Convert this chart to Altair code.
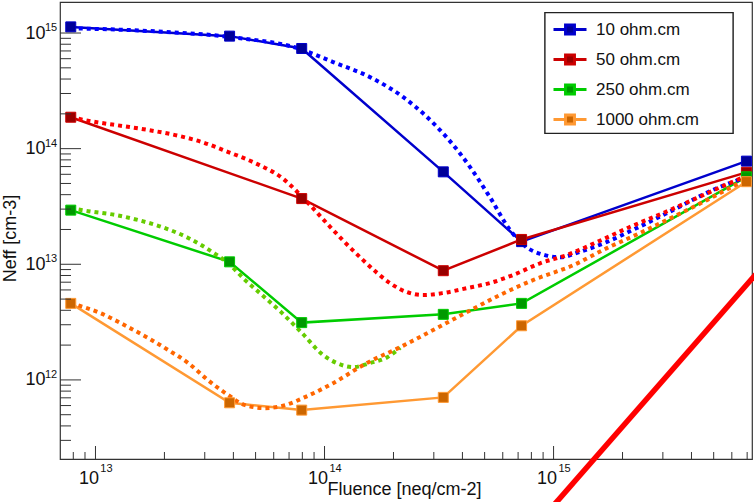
import altair as alt
import pandas as pd

FONT = "Liberation Sans"

SERIES = ["10 ohm.cm", "50 ohm.cm", "250 ohm.cm", "1000 ohm.cm"]
LINE_COLORS = ["#0000cc", "#cc0000", "#00cc00", "#ff9933"]
MARKER_COLORS = ["#000099", "#990000", "#009900", "#cc6600"]
DOT_COLORS = ["#0000ff", "#ff0000", "#66cc00", "#ff6600"]

# measured points (solid lines with square markers)
fluence_6 = [7.8e12, 3.85e13, 7.95e13, 3.3e14, 7.25e14, 6.95e15]
fluence_5 = [7.8e12, 7.95e13, 3.3e14, 7.25e14, 6.95e15]
neff_10 = [1.13e15, 9.4e14, 7.35e14, 6.3e13, 1.57e13, 7.8e13]
neff_50 = [1.87e14, 3.7e13, 8.8e12, 1.64e13, 6.24e13]
neff_250 = [2.94e13, 1.05e13, 3.13e12, 3.69e12, 4.59e12, 5.71e13]
neff_1000 = [4.59e12, 6.34e11, 5.48e11, 7.06e11, 2.94e12, 5.18e13]

# dotted model curves
dot10_x = [7.8e12, 1.73e13, 3.87e13, 7.82e13, 1.09e14, 1.61e14, 2.20e14, 2.80e14, 3.43e14,
           4.32e14, 5.27e14, 6.45e14, 7.5e14, 9.17e14, 1.07e15, 1.30e15, 1.71e15, 2.31e15,
           3.32e15, 4.96e15, 6.95e15]
dot10_y = [1.10e15, 1.04e15, 9.23e14, 7.28e14, 5.61e14, 4.08e14, 2.80e14, 1.88e14, 1.24e14,
           6.93e13, 3.81e13, 1.98e13, 1.44e13, 1.20e13, 1.15e13, 1.28e13, 1.56e13, 2.06e13,
           2.94e13, 4.39e13, 5.68e13]
dot50_x = [7.8e12, 1.0e13, 1.31e13, 1.70e13, 2.23e13, 2.92e13, 3.80e13, 4.98e13, 6.53e13,
           8.48e13, 1.06e14, 1.20e14, 1.43e14, 1.70e14, 1.93e14, 2.29e14, 2.69e14, 3.29e14,
           4.19e14, 5.27e14, 6.65e14, 8.73e14, 1.14e15, 1.55e15, 2.15e15, 3.00e15, 4.22e15,
           5.87e15, 6.95e15]
dot50_y = [1.87e14, 1.70e14, 1.57e14, 1.45e14, 1.31e14, 1.14e14, 9.35e13, 7.50e13, 5.57e13,
           3.38e13, 2.10e13, 1.62e13, 1.15e13, 8.39e12, 6.88e12, 5.74e12, 5.42e12, 5.64e12,
           6.22e12, 6.88e12, 8.07e12, 1.02e13, 1.20e13, 1.56e13, 2.10e13, 2.77e13, 3.74e13,
           5.04e13, 5.80e13]
dot250_x = [7.8e12, 9.29e12, 1.22e13, 1.54e13, 1.95e13, 2.54e13, 3.23e13, 3.80e13, 4.50e13,
            5.34e13, 6.53e13, 7.98e13, 9.86e13, 1.13e14, 1.33e14, 1.58e14, 1.88e14, 2.14e14]
dot250_y = [3.06e13, 2.88e13, 2.67e13, 2.41e13, 2.10e13, 1.69e13, 1.28e13, 1.02e13, 7.30e12,
            5.42e12, 3.78e12, 2.54e12, 1.64e12, 1.40e12, 1.29e12, 1.40e12, 1.57e12, 1.90e12]
dot1000_x = [7.8e12, 1.05e13, 1.39e13, 1.70e13, 2.08e13, 2.54e13, 3.10e13, 3.80e13, 4.50e13,
             5.50e13, 6.73e13, 8.22e13, 1.09e14, 1.53e14, 2.14e14, 2.98e14, 4.19e14, 5.83e14,
             8.13e14, 1.22e15, 1.71e15, 2.38e15, 3.32e15, 4.67e15, 6.50e15, 6.95e15]
dot1000_y = [4.61e12, 3.78e12, 2.86e12, 2.30e12, 1.81e12, 1.40e12, 9.95e11, 7.39e11, 6.05e11,
             5.70e11, 6.05e11, 7.10e11, 9.37e11, 1.40e12, 1.92e12, 2.70e12, 3.86e12, 5.42e12,
             7.30e12, 9.84e12, 1.38e13, 1.86e13, 2.56e13, 3.59e13, 5.04e13, 5.35e13]

# red diagonal annotation stroke (ends)
anno_x = [1.01e15, 7.64e15]
anno_y = [8.4e10, 8.2e12]

# axis ticks and labels
x_major = [1e13, 1e14, 1e15]
x_minor = [8e12, 9e12, 2e13, 3e13, 4e13, 5e13, 6e13, 7e13, 8e13, 9e13,
           2e14, 3e14, 4e14, 5e14, 6e14, 7e14, 8e14, 9e14,
           2e15, 3e15, 4e15, 5e15, 6e15, 7e15]
x_exp = ["13", "14", "15"]
y_major = [1e12, 1e13, 1e14, 1e15]
y_minor = [3e11, 4e11, 5e11, 6e11, 7e11, 8e11, 9e11,
           2e12, 3e12, 4e12, 5e12, 6e12, 7e12, 8e12, 9e12,
           2e13, 3e13, 4e13, 5e13, 6e13, 7e13, 8e13, 9e13,
           2e14, 3e14, 4e14, 5e14, 6e14, 7e14, 8e14, 9e14]
y_exp = ["12", "13", "14", "15"]

X_DOMAIN = [7.0e12, 7.35e15]
Y_DOMAIN = [2.07e11, 1.855e15]

# ---- tables ----
meas_rows = []
for s, xs, ys in zip(SERIES, [fluence_6, fluence_5, fluence_6, fluence_6],
                     [neff_10, neff_50, neff_250, neff_1000]):
    for a, b in zip(xs, ys):
        meas_rows.append({"series": s, "fluence": a, "neff": b})
meas = pd.DataFrame(meas_rows)

dot_rows = []
for s, xs, ys in zip(SERIES, [dot10_x, dot50_x, dot250_x, dot1000_x],
                     [dot10_y, dot50_y, dot250_y, dot1000_y]):
    for a, b in zip(xs, ys):
        dot_rows.append({"series": s, "fluence": a, "neff": b})
dots = pd.DataFrame(dot_rows)

anno = pd.DataFrame({"fluence": anno_x, "neff": anno_y})
xmaj = pd.DataFrame({"fluence": x_major, "label": x_exp})
xmin = pd.DataFrame({"fluence": x_minor})
ymaj = pd.DataFrame({"neff": y_major, "label": y_exp})
ymin = pd.DataFrame({"neff": y_minor})

xs_scale = alt.Scale(type="log", domain=X_DOMAIN, nice=False)
ys_scale = alt.Scale(type="log", domain=Y_DOMAIN, nice=False)

x_axis = alt.Axis(values=x_major, labelExpr="'10'", tickSize=0, domain=False, grid=False,
                  labelFont=FONT, labelFontSize=18, labelColor="#111", labelPadding=19,
                  labelBaseline="middle", labelOffset=-7, labelFlush=False, labelOverlap=False,
                  title="Fluence [neq/cm-2]", titleFont=FONT, titleFontSize=18,
                  titleFontWeight="normal", titleColor="#111", titleX=267, titleY=30,
                  titleAlign="left", titleBaseline="middle")
y_axis = alt.Axis(values=y_major, labelExpr="'10'", tickSize=0, domain=False, grid=False,
                  labelFont=FONT, labelFontSize=18, labelColor="#111", labelPadding=15,
                  labelBaseline="middle", labelFlush=False, labelOverlap=False,
                  title="Neff [cm-3]", titleFont=FONT, titleFontSize=18,
                  titleFontWeight="normal", titleColor="#111", titleX=-50, titleY=236,
                  titleAngle=-90, titleAlign="center", titleBaseline="middle")


def X():
    return alt.X("fluence:Q", scale=xs_scale, axis=x_axis)


def Y():
    return alt.Y("neff:Q", scale=ys_scale, axis=y_axis)


stroke_scale = alt.Scale(domain=SERIES, range=LINE_COLORS)
fill_scale = alt.Scale(domain=SERIES, range=MARKER_COLORS)

legend = alt.Legend(title=None, orient="none", legendX=485, legendY=11,
                    symbolType="M-1,0H-0.27M0.27,0H1M-0.27,-0.27H0.27V0.27H-0.27Z",
                    symbolSize=1089, symbolStrokeWidth=3, symbolOffset=4,
                    labelFont=FONT, labelFontSize=17, labelColor="#111", labelOffset=8,
                    padding=3, clipHeight=27, rowPadding=3, labelLimit=300)

solid = alt.Chart(meas).mark_line(strokeWidth=2.5).encode(
    x=X(), y=Y(),
    stroke=alt.Stroke("series:N", scale=stroke_scale, legend=legend),
)

dotted = alt.Chart(dots).mark_line(strokeWidth=4, strokeDash=[4, 4], strokeCap="butt",
                                   interpolate="monotone").encode(
    x=X(), y=Y(),
    color=alt.Color("series:N", scale=alt.Scale(domain=SERIES, range=DOT_COLORS), legend=None),
)

markers = alt.Chart(meas).mark_point(shape="square", filled=True, size=100, opacity=1,
                                     strokeWidth=1).encode(
    x=X(), y=Y(),
    fill=alt.Fill("series:N", scale=fill_scale, legend=legend),
    stroke=alt.Stroke("series:N", scale=stroke_scale, legend=legend),
)

# legend frame (white box with dark border behind the legend entries)
legend_box = alt.Chart(anno).mark_rect(fill="white", stroke="#222222", strokeWidth=1.2).encode(
    x=alt.value(485), x2=alt.value(673), y=alt.value(10.7), y2=alt.value(131.3))

red = alt.Chart(anno).mark_line(color="#ff0000", strokeWidth=5.5, clip=False).encode(
    x=X(), y=Y(),
)

TICK = "#333333"
xt_major = alt.Chart(xmaj).mark_rule(color=TICK, strokeWidth=1).encode(
    x=X(), y=alt.value(457), y2=alt.value(444))
xt_minor = alt.Chart(xmin).mark_rule(color=TICK, strokeWidth=1).encode(
    x=X(), y=alt.value(457), y2=alt.value(450))
yt_major = alt.Chart(ymaj).mark_rule(color=TICK, strokeWidth=1).encode(
    y=Y(), x=alt.value(0), x2=alt.value(21))
yt_minor = alt.Chart(ymin).mark_rule(color=TICK, strokeWidth=1).encode(
    y=Y(), x=alt.value(0), x2=alt.value(11))

x_sup = alt.Chart(xmaj).mark_text(font=FONT, fontSize=11, color="#111", align="center",
                                  baseline="middle", dx=11).encode(
    x=X(), y=alt.value(467), text="label:N")
y_sup = alt.Chart(ymaj).mark_text(font=FONT, fontSize=11, color="#111", align="center",
                                  baseline="middle", dy=-5).encode(
    y=Y(), x=alt.value(-9), text="label:N")

chart = alt.layer(
    solid, dotted, markers, legend_box, xt_major, xt_minor, yt_major, yt_minor,
    x_sup, y_sup, red
).properties(
    width=692, height=457,
    autosize=alt.AutoSizeParams(type="none"),
    padding={"left": 60, "top": 2, "right": 2, "bottom": 43},
    background="white",
).configure_view(stroke="#333333", strokeWidth=1.2)

chart.save("out.html", embed_options={"renderer": "svg", "actions": False})
